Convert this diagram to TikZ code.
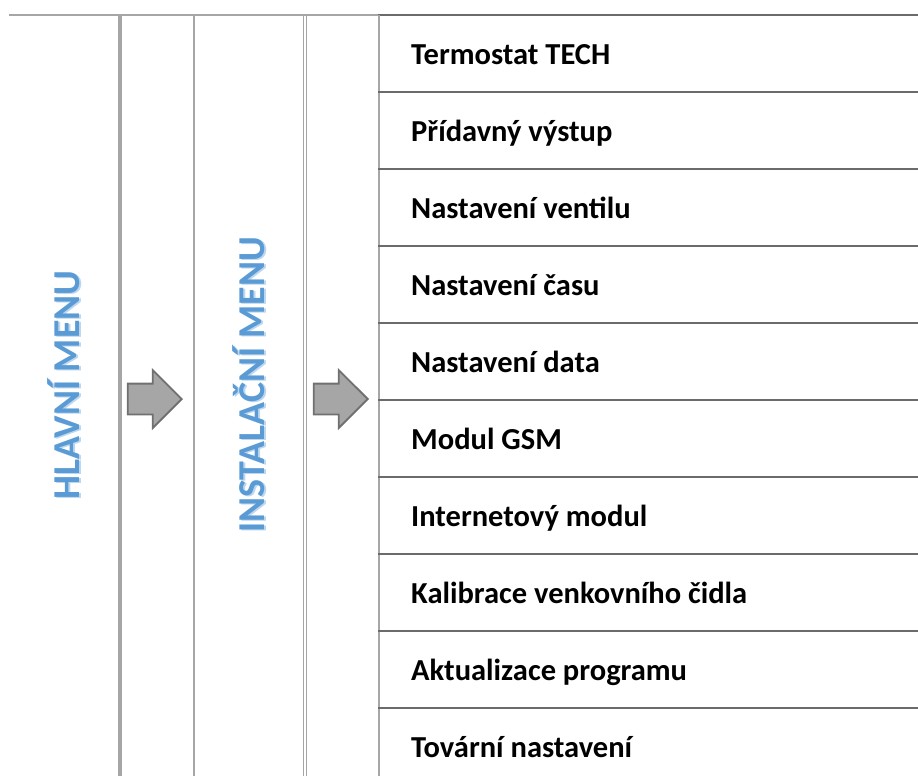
\documentclass[tikz,border=0pt]{standalone}
\usepackage{fontspec}
\setmainfont{Carlito}
\usetikzlibrary{positioning,shapes.arrows}
\definecolor{menublue}{HTML}{5B9BD5}
\definecolor{gridgrey}{HTML}{A6A6A6}
\definecolor{rulegrey}{HTML}{6B6B6B}

\begin{document}
\begin{tikzpicture}[x=1pt, y=-1pt,
                      gridline/.style = {draw=gridgrey, line width=2pt},
                      rowline/.style = {draw=rulegrey, line width=2.5pt},
                      menutitle/.style = {rotate=90, text=menublue,
                        font=\bfseries\fontsize{38}{38}\selectfont},
                      titleglow/.style = {menutitle, text=menublue!40},
                      item/.style = {anchor=base west, inner sep=0pt,
                        font=\bfseries\fontsize{30.5}{30.5}\selectfont},
                      blockarrow/.style = {single arrow, anchor=tip,
                        draw=black!56, fill=gridgrey, line width=1.8pt,
                        inner xsep=0pt, inner ysep=14.5pt,
                        minimum height=54pt,
                        single arrow head extend=13.5pt}]
  \useasboundingbox (0,0) rectangle (918,776);
  % table frame
  \draw[gridgrey, line width=2.5pt] (9,15) -- (378,15);
  \draw[rowline] (378,15) -- (918,15);
  \draw[gridline, line width=3.5pt] (120,15) -- (120,776);
  \draw[gridline] (193.5,15) -- (193.5,776);
  \draw[gridline, line width=1.5pt] (303.5,15) -- (303.5,776);
  \draw[gridline, line width=1.5pt] (306.5,15) -- (306.5,776);
  \draw[gridline] (378.5,15) -- (378.5,776);
  \foreach \k in {1,...,9}
    \draw[rowline] (378,15+77*\k) -- (918,15+77*\k);
  % menu titles, with a soft shadow
  \node[titleglow] (hlavniglow) at (65.5,386) {HLAVNÍ MENU};
  \node[titleglow] (instalglow) at (250.5,386) {INSTALAČNÍ MENU};
  \node[menutitle] (hlavni) at (64,385) {HLAVNÍ MENU};
  \node[menutitle] (instal) at (249,385) {INSTALAČNÍ MENU};
  % arrows
  \node[blockarrow] (arrowA) at (183,399) {};
  \node[blockarrow] (arrowB) at (369,399) {};
  % items
  \foreach \name [count=\k] in {Termostat TECH, Přídavný výstup,
      Nastavení ventilu, Nastavení času, Nastavení data, Modul GSM,
      Internetový modul, Kalibrace venkovního čidla,
      Aktualizace programu, Tovární nastavení}
    \node[item] (row\k) at (411,64+77*\k-77) {\name};
\end{tikzpicture}
\end{document}
